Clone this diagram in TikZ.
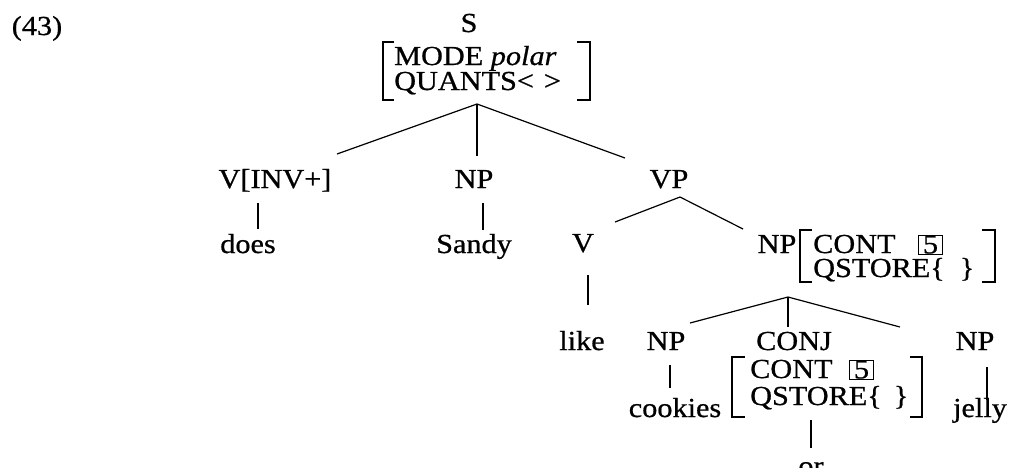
\documentclass[tikz,border=0pt]{standalone}
\usepackage{fontspec}
\setmainfont{Liberation Serif}[FakeStretch=1.1,FakeBold=0.7]
\begin{document}
\begin{tikzpicture}[x=1pt,y=-1pt,
  every node/.style={inner sep=0pt, font=\fontsize{27.5}{25}\selectfont},
  lbl/.style={anchor=base},
  lw/.style={anchor=base west},
  brk/.style={line width=1.3pt},
  edge/.style={line width=1.2pt},
  tag/.style={draw, line width=1pt, minimum width=24pt, minimum height=19pt}]
\useasboundingbox (0,0) rectangle (1011,467);
% example number
\node[lbl] (ex) at (37,35) {(43)};
% S and its feature structure
\node[lbl] (S) at (469,32) {S};
\node[lw] (modeS) at (394,65) {MODE \textit{polar}};
\node[lw] (quantsS) at (394,90) {QUANTS<\hspace{10pt}>};
\draw[brk] (394,42) -- (383,42) -- (383,100) -- (394,100);
\draw[brk] (577,42) -- (590,42) -- (590,100) -- (577,100);
\coordinate (Sa) at (477,104);
% level 1
\node[lbl] (vinv) at (275,188) {V[INV+]};
\node[lbl] (np1) at (474,188) {NP};
\node[lbl] (vp) at (669,188) {VP};
\coordinate (vinvT) at (337,154);
\coordinate (np1T) at (477,156);
\coordinate (vpT) at (625,158);
\draw[edge] (Sa) -- (vinvT);
\draw[edge] (Sa) -- (np1T);
\draw[edge] (Sa) -- (vpT);
% level 2 under V[INV+] and NP
\node[lbl] (does) at (248,253) {does};
\node[lbl] (sandy) at (474,253) {Sandy};
\coordinate (vinvB) at (258,203); \coordinate (doesT) at (258,229);
\coordinate (np1B) at (483,203); \coordinate (sandyT) at (483,230);
\draw[edge] (vinvB) -- (doesT);
\draw[edge] (np1B) -- (sandyT);
% VP children
\coordinate (vpA) at (680,197);
\node[lbl] (v) at (583,252) {V};
\node[lbl] (np2) at (777,253) {NP};
\coordinate (vT) at (615,222);
\coordinate (np2T) at (743,229);
\draw[edge] (vpA) -- (vT);
\draw[edge] (vpA) -- (np2T);
% NP feature structure
\node[lw] (cont2) at (813,253) {CONT};
\node[tag] (tag2) at (930.5,244.5) {5};
\node[lw] (qst2) at (813,277) {QSTORE\{\hspace{15pt}\}};
\draw[brk] (812,230) -- (800,230) -- (800,282) -- (812,282);
\draw[brk] (982,230) -- (995,230) -- (995,282) -- (982,282);
% like
\node[lbl] (like) at (582,350) {like};
\coordinate (vB) at (588,275); \coordinate (likeT) at (588,305);
\draw[edge] (vB) -- (likeT);
% NP coordination
\coordinate (np2A) at (788,297);
\node[lbl] (np3) at (666,350) {NP};
\node[lbl] (conj) at (794,350) {CONJ};
\node[lbl] (np4) at (975,350) {NP};
\coordinate (np3T) at (690,323);
\coordinate (conjT) at (788,327);
\coordinate (np4T) at (900,327);
\draw[edge] (np2A) -- (np3T);
\draw[edge] (np2A) -- (conjT);
\draw[edge] (np2A) -- (np4T);
% CONJ feature structure
\node[lw] (cont3) at (750,378) {CONT};
\node[tag] (tag3) at (861.5,369.5) {5};
\node[lw] (qst3) at (750,405) {QSTORE\{\hspace{12pt}\}};
\draw[brk] (745,357) -- (732,357) -- (732,417) -- (745,417);
\draw[brk] (910,357) -- (922,357) -- (922,417) -- (910,417);
% leaves
\node[lbl] (cookies) at (675,417) {cookies};
\node[lbl] (jelly) at (980,417) {jelly};
\node[lbl] (or) at (811,475) {or};
\coordinate (np3B) at (670,365); \coordinate (cookiesT) at (670,388);
\coordinate (conjB) at (811,420); \coordinate (orT) at (811,448);
\coordinate (np4B) at (987,367); \coordinate (jellyT) at (987,400);
\draw[edge] (np3B) -- (cookiesT);
\draw[edge] (conjB) -- (orT);
\draw[edge] (np4B) -- (jellyT);
\end{tikzpicture}
\end{document}
